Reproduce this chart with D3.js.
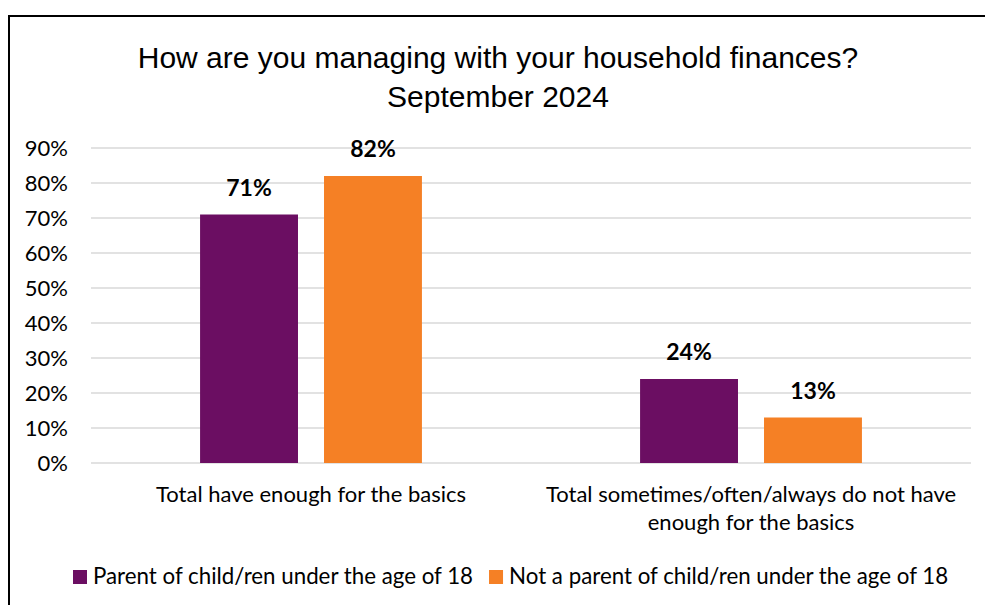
<!DOCTYPE html>
<html>
<head>
<meta charset="utf-8">
<script src="https://cdn.jsdelivr.net/npm/d3@7"></script>
<style>
  html, body { margin: 0; padding: 0; background: #fff; }
  svg { display: block; }
</style>
</head>
<body>
<svg id="chart" width="985" height="605"></svg>
<script>
// Household finances survey, September 2024
const categories = [
  ["Total have enough for the basics"],
  ["Total sometimes/often/always do not have", "enough for the basics"]
];
const seriesNames = [
  "Parent of child/ren under the age of 18",
  "Not a parent of child/ren under the age of 18"
];
const parentValues = [71, 24];
const nonParentValues = [82, 13];
const yTicks = [0, 10, 20, 30, 40, 50, 60, 70, 80, 90];
const colors = ["#6B0E62", "#F58025"];

const svg = d3.select("#chart");
const W = 985, H = 605;
const bodyFont = "Lato, 'Open Sans', sans-serif";

// outer frame
svg.append("rect")
  .attr("x", 9).attr("y", 16)
  .attr("width", W + 10).attr("height", H + 10)
  .attr("fill", "#fff").attr("stroke", "#000").attr("stroke-width", 2);

// title
const title = svg.append("text")
  .attr("text-anchor", "middle")
  .attr("font-family", "'Liberation Sans', Arial, sans-serif")
  .attr("font-size", 30)
  .attr("fill", "#000");
title.append("tspan").attr("x", 498).attr("y", 68)
  .text("How are you managing with your household finances?");
title.append("tspan").attr("x", 498).attr("y", 107)
  .text("September 2024");

const plot = { left: 91, right: 971, top: 148, bottom: 463 };

const x0 = d3.scaleBand()
  .domain(d3.range(categories.length))
  .range([plot.left, plot.right]);
const x1 = d3.scaleBand()
  .domain(d3.range(seriesNames.length))
  .range([0, x0.bandwidth()])
  .paddingInner(0.21)
  .paddingOuter(0.88);
const y = d3.scaleLinear().domain([0, 90]).range([plot.bottom, plot.top]);

// gridlines
svg.append("g").selectAll("line").data(yTicks).join("line")
  .attr("x1", plot.left).attr("x2", plot.right)
  .attr("y1", d => y(d)).attr("y2", d => y(d))
  .attr("stroke", "#d9d9d9").attr("stroke-width", 1.3);

// y axis labels
svg.append("g").selectAll("text").data(yTicks).join("text")
  .attr("x", 68).attr("y", d => y(d) + 7.5)
  .attr("text-anchor", "end")
  .attr("font-family", bodyFont).attr("font-size", 22).attr("fill", "#000")
  .text(d => d + "%");

// bars
const seriesData = [parentValues, nonParentValues];
const groups = svg.append("g").selectAll("g").data(categories).join("g")
  .attr("transform", (d, i) => `translate(${x0(i)},0)`);

groups.each(function (cat, ci) {
  const g = d3.select(this);
  const vals = seriesData.map((s, si) => ({ si, v: s[ci] }));
  g.selectAll("rect").data(vals).join("rect")
    .attr("x", d => x1(d.si))
    .attr("width", x1.bandwidth())
    .attr("y", d => y(d.v))
    .attr("height", d => y(0) - y(d.v))
    .attr("fill", d => colors[d.si]);
  g.selectAll("text.val").data(vals).join("text")
    .attr("class", "val")
    .attr("x", d => x1(d.si) + x1.bandwidth() / 2)
    .attr("y", d => y(d.v) - 19)
    .attr("text-anchor", "middle")
    .attr("font-family", bodyFont).attr("font-weight", "bold")
    .attr("font-size", 23).attr("fill", "#000")
    .text(d => d.v + "%");
});

// category labels
categories.forEach((lines, i) => {
  const t = svg.append("text")
    .attr("text-anchor", "middle")
    .attr("font-family", bodyFont).attr("font-size", 22).attr("fill", "#000");
  lines.forEach((ln, k) => {
    t.append("tspan")
      .attr("x", x0(i) + x0.bandwidth() / 2)
      .attr("y", 502 + k * 28)
      .text(ln);
  });
});

// legend
const legend = svg.append("g").attr("transform", "translate(73,570)");
let lx = 0;
seriesNames.forEach((name, i) => {
  const item = legend.append("g").attr("transform", `translate(${lx},0)`);
  item.append("rect").attr("x", 0).attr("y", 0).attr("width", 14).attr("height", 14)
    .attr("fill", colors[i]);
  const t = item.append("text").attr("x", 20).attr("y", 14)
    .attr("font-family", bodyFont).attr("font-size", 22.3).attr("fill", "#000")
    .text(name);
  lx += 20 + t.node().getComputedTextLength() + 16;
});
</script>
</body>
</html>
